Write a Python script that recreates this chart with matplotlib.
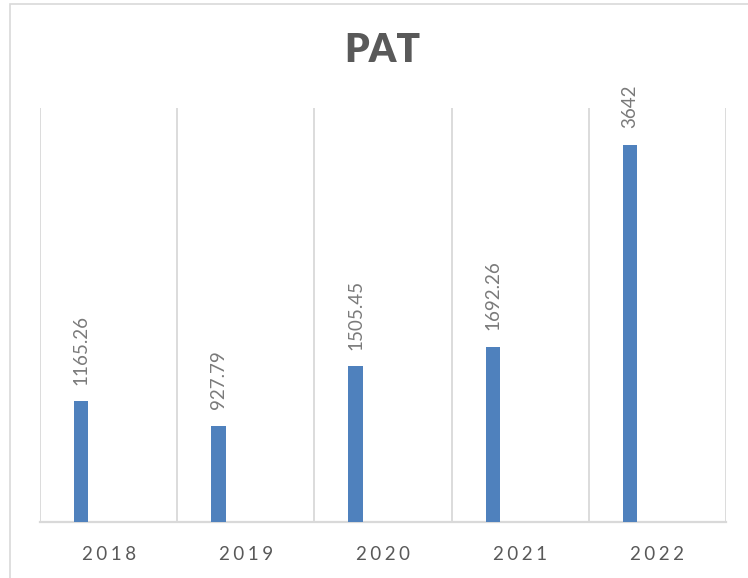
import matplotlib
matplotlib.use('Agg')
import matplotlib.pyplot as plt
from matplotlib.patches import Rectangle

# PAT by year
years = ['2018', '2019', '2020', '2021', '2022']
pat = [1165.26, 927.79, 1505.45, 1692.26, 3642]
labels = ['1165.26', '927.79', '1505.45', '1692.26', '3642']

FONT = ['Lato', 'DejaVu Sans']
GRID = '#d9d9d9'
TEXT = '#595959'

fig = plt.figure(figsize=(7.48, 5.78), dpi=100)
ax = fig.add_axes([40 / 748, 1 - 522 / 578, 686 / 748, 414 / 578])

# outer chart frame (runs off the right/bottom edge like the screenshot)
fig.patches.append(Rectangle((10 / 748, -0.1), 1.2, 1 - 4 / 578 + 0.1,
                             transform=fig.transFigure, fill=False,
                             edgecolor=GRID, linewidth=1.2))

x = range(len(years))
bar_pos = [i + 0.30 for i in x]
ax.bar(bar_pos, pat, width=0.105, color='#4f81bd', zorder=3)

for xp, v, lab in zip(bar_pos, pat, labels):
    ax.annotate(lab, (xp, v), xytext=(0, 12), textcoords='offset points',
                rotation=90, ha='center', va='bottom', fontsize=13.5,
                color='#7a7a7a', family=FONT)

ax.set_xlim(0, 5)
ax.set_ylim(0, 4000)
for g in range(6):
    ax.axvline(g, color=GRID, linewidth=1.3, zorder=1)

ax.set_xticks([i + 0.5 for i in x])
ax.set_xticklabels(['\u2009\u200a'.join(y) for y in years], family=FONT,
                   fontsize=13.5, color=TEXT)
ax.tick_params(axis='x', length=0, pad=17.5)
ax.set_yticks([])
for s in ['top', 'left', 'right']:
    ax.spines[s].set_visible(False)
ax.spines['bottom'].set_color(GRID)
ax.spines['bottom'].set_linewidth(1.6)

fig.text(382 / 748, 1 - 51 / 578, 'PAT', ha='center', va='center',
         fontsize=28, fontweight='heavy', color=TEXT, family=FONT)

fig.savefig('out.png', dpi=100)
